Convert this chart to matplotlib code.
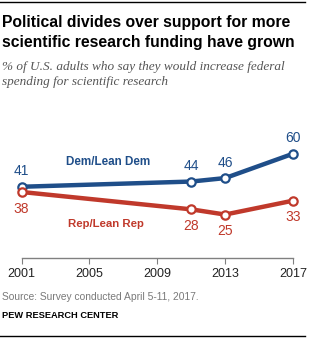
import matplotlib
matplotlib.use("Agg")
import matplotlib.pyplot as plt

# data
years = [2001, 2011, 2013, 2017]
dem = [41, 44, 46, 60]
rep = [38, 28, 25, 33]
ticks = [2001, 2005, 2009, 2013, 2017]

BLUE = "#1f4e89"
RED = "#c0392b"
GRAY = "#7a7a7a"
SANS = "Liberation Sans"

W, H = 310, 340
fig = plt.figure(figsize=(W / 100, H / 100), dpi=100)

# axes placed in pixel terms: x 2001->21.5px, 2017->293px; y 0 at 258px
left, right, bottom, top = 21.5, 293, 258, 119
ax = fig.add_axes([left / W, 1 - bottom / H, (right - left) / W, (bottom - top) / H])
ax.set_xlim(2001, 2017)
ax.set_ylim(0, 80)

for vals, col in [(dem, BLUE), (rep, RED)]:
    ax.plot(years, vals, color=col, lw=3.2, solid_capstyle="butt", zorder=2)
    ax.plot(years, vals, ls="none", marker="o", ms=6, mfc="white", mec=col,
            mew=1.6, zorder=3, clip_on=False)

# value labels
for x, v in zip(years, dem):
    ax.annotate(str(v), (x, v), xytext=(0, 6), textcoords="offset points",
                ha="center", va="bottom", color=BLUE, fontsize=10, family=SANS)
for x, v in zip(years, rep):
    ax.annotate(str(v), (x, v), xytext=(0, -7), textcoords="offset points",
                ha="center", va="top", color=RED, fontsize=10, family=SANS)

ax.text(2006.1, 55, "Dem/Lean Dem", color=BLUE, fontsize=8.4, fontweight="bold",
        family=SANS, ha="center", va="center")
ax.text(2006.0, 19.5, "Rep/Lean Rep", color=RED, fontsize=8.2, fontweight="bold",
        family=SANS, ha="center", va="center")

for s in ["top", "right", "left"]:
    ax.spines[s].set_visible(False)
ax.spines["bottom"].set_color("#808080")
ax.spines["bottom"].set_linewidth(1)
ax.set_yticks([])
ax.set_xticks(ticks)
ax.set_xticklabels([str(t) for t in ticks], family=SANS)
ax.tick_params(axis="x", length=4, color="#808080", labelsize=9, pad=3,
               labelcolor="#222222")

# header / footer
fig.add_artist(plt.Line2D([0, 0.985], [1 - 2 / H, 1 - 2 / H], color="black", lw=1))
fig.text(2 / W, 1 - 23 / H, "Political divides over support for more",
         fontsize=11.3, fontweight="bold", family=SANS, va="center", ha="left")
fig.text(2 / W, 1 - 43 / H, "scientific research funding have grown",
         fontsize=11.3, fontweight="bold", family=SANS, va="center", ha="left")
fig.text(2 / W, 1 - 67 / H, "% of U.S. adults who say they would increase federal",
         fontsize=9.5, style="italic", family="Liberation Serif", color="#555555",
         va="center", ha="left")
fig.text(2 / W, 1 - 82 / H, "spending for scientific research",
         fontsize=9.5, style="italic", family="Liberation Serif", color="#555555",
         va="center", ha="left")
fig.text(2 / W, 1 - 297 / H, "Source: Survey conducted April 5-11, 2017.",
         fontsize=7.4, family=SANS, color=GRAY, va="center", ha="left")
fig.text(2 / W, 1 - 315 / H, "PEW RESEARCH CENTER",
         fontsize=6.7, fontweight="bold", family=SANS, va="center", ha="left")
fig.add_artist(plt.Line2D([0, 0.985], [1 - 336 / H, 1 - 336 / H], color="black", lw=1))

fig.savefig("out.png", dpi=100)
